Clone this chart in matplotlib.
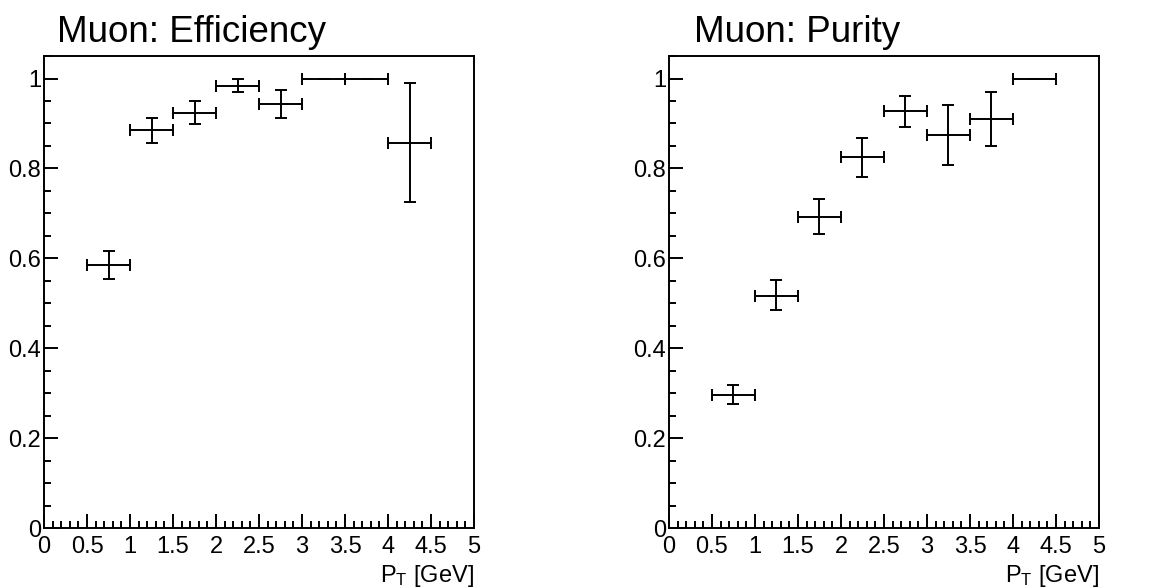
import matplotlib
matplotlib.use("Agg")
from matplotlib import pyplot as plt
import numpy as np

plt.rcParams['font.family'] = ['Liberation Sans', 'DejaVu Sans']
plt.rcParams['mathtext.fontset'] = 'custom'
plt.rcParams['mathtext.rm'] = 'Liberation Sans'
plt.rcParams['mathtext.it'] = 'Liberation Sans:italic'

# bin edges (same for both panels)
bin_lo = [0.5, 1.0, 1.5, 2.0, 2.5, 3.0, 3.5, 4.0]
bin_hi = [1.0, 1.5, 2.0, 2.5, 3.0, 3.5, 4.0, 4.5]

eff_val = [0.585, 0.885, 0.923, 0.984, 0.943, 1.0, 1.0, 0.857]
eff_up = [0.032, 0.027, 0.027, 0.016, 0.032, 0.0, 0.0, 0.132]
eff_dn = [0.030, 0.028, 0.025, 0.015, 0.030, 0.0, 0.0, 0.131]

pur_val = [0.297, 0.516, 0.693, 0.825, 0.927, 0.874, 0.909, 1.0]
pur_up = [0.021, 0.035, 0.039, 0.043, 0.035, 0.068, 0.061, 0.0]
pur_dn = [0.021, 0.032, 0.038, 0.043, 0.034, 0.066, 0.060, 0.0]

titles = ["Muon: Efficiency", "Muon: Purity"]
xlabel = r"P$_{\mathrm{T}}$ [GeV]"
x_ticks = [0, 0.5, 1, 1.5, 2, 2.5, 3, 3.5, 4, 4.5, 5]
x_ticklabels = ["0", "0.5", "1", "1.5", "2", "2.5", "3", "3.5", "4", "4.5", "5"]
y_ticks = [0, 0.2, 0.4, 0.6, 0.8, 1.0]
y_ticklabels = ["0", "0.2", "0.4", "0.6", "0.8", "1"]

fig = plt.figure(figsize=(11.74, 5.88), dpi=100)

panels = [
    (0.0375, 0.0486, eff_val, eff_dn, eff_up),
    (0.5698, 0.591, pur_val, pur_dn, pur_up),
]

lo = np.array(bin_lo)
hi = np.array(bin_hi)
xc = (lo + hi) / 2
xerr = [xc - lo, hi - xc]

for i, (left, tx, val, dn, up) in enumerate(panels):
    ax = fig.add_axes([left, 0.102, 0.3663, 0.8027])
    ax.errorbar(xc, val, xerr=xerr, yerr=[dn, up], fmt='none', ecolor='black',
                elinewidth=1.4, capsize=4, capthick=1.4)
    ax.set_xlim(0, 5)
    ax.set_ylim(0, 1.05)
    ax.set_xticks(x_ticks)
    ax.set_xticklabels(x_ticklabels)
    ax.set_yticks(y_ticks)
    ax.set_yticklabels(y_ticklabels)
    ax.set_xticks(np.arange(0, 5.01, 0.1), minor=True)
    ax.set_yticks(np.arange(0, 1.051, 0.05), minor=True)
    ax.tick_params(which='both', direction='in', width=1.4, labelsize=17,
                   top=False, right=False)
    ax.tick_params(which='major', length=10)
    ax.tick_params(which='minor', length=5)
    ax.tick_params(axis='y', pad=2)
    ax.tick_params(axis='x', pad=6)
    for s in ax.spines.values():
        s.set_linewidth(1.4)
    ax.set_xlabel(xlabel, fontsize=17, loc='right', labelpad=3)
    fig.text(tx, 0.9286, titles[i], fontsize=26.5, va='baseline', ha='left')

fig.savefig("out.png", dpi=100)
